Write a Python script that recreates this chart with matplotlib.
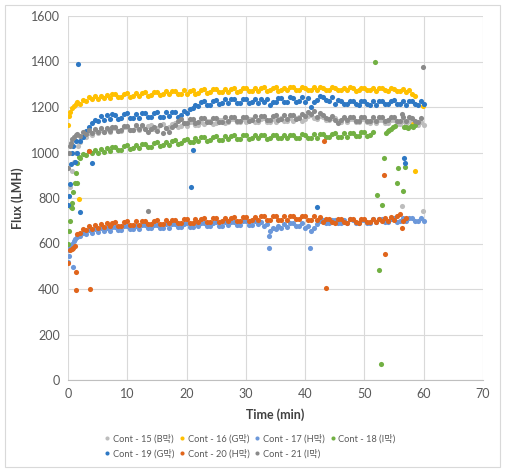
import numpy as np
import matplotlib
matplotlib.use("Agg")
import matplotlib.pyplot as plt
from matplotlib.patches import Rectangle

plt.rcParams['font.family'] = ['Lato', 'Noto Sans CJK KR', 'DejaVu Sans']

# ---------------- data ----------------
series_names = ["Cont - 15 (B막)", "Cont - 16 (G막)", "Cont - 17 (H막)", "Cont - 18 (I막)",
                "Cont - 19 (G막)", "Cont - 20 (H막)", "Cont - 21 (I막)"]
colors = ["#BDBDBD", "#FFC000", "#6C98DA", "#72B043", "#2E78C4", "#E0651C", "#8A8A8A"]

# regular sampling times (min) for the main bands
T = np.arange(2.0, 60.01, 0.5)

y15 = [1045,1066,1068,1086,1078,1096,1084,1100,1088,1104,
       1091,1106,1108,1093,1095,1110,1112,1097,1099,1114,
       1101,1116,1103,1118,1120,1105,1107,1122,1124,1109,
       1111,1126,1128,1113,1115,1130,1118,1132,1134,1120,
       1122,1136,1124,1138,1140,1126,1128,1142,1144,1130,
       1132,1146,1147,1133,1134,1148,1133,1147,1149,1135,
       1134,1148,1150,1136,1133,1147,1135,1149,1151,1137,
       1138,1152,1139,1153,1154,1140,1146,1162,1164,1150,
       1148,1160,1156,1144,1141,1153,1152,1138,1136,1150,
       1135,1149,1148,1134,1133,1147,1146,1132,1131,1145,
       1130,1144,1143,1129,1128,1142,1141,1127,1126,1140,
       1124,1138,1135,1122,1120,1132,1122]
t15_x = [0.3, 0.6, 1.0, 1.4, 1.7, 56.3, 59.8]
y15_x = [850, 920, 960, 1000, 1030, 765, 745]

y16 = [1215,1232,1226,1244,1233,1247,1236,1250,1238,1252,
       1240,1255,1257,1242,1244,1259,1260,1246,1247,1262,
       1249,1263,1265,1250,1252,1266,1268,1253,1255,1269,
       1256,1271,1272,1257,1258,1273,1255,1270,1274,1259,
       1261,1276,1277,1262,1264,1278,1279,1265,1266,1280,
       1267,1281,1282,1268,1269,1283,1284,1270,1271,1285,
       1272,1285,1286,1271,1273,1284,1287,1272,1274,1285,
       1273,1288,1286,1275,1274,1287,1285,1276,1273,1286,
       1275,1287,1285,1274,1276,1286,1284,1273,1275,1285,
       1274,1286,1284,1272,1275,1285,1283,1273,1274,1284,
       1272,1283,1282,1273,1271,1283,1281,1272,1270,1280,
       1268,1276,1258]
t16_x = [0.0, 0.2, 0.4, 0.7, 1.0, 1.3, 1.6, 1.85, 58.2, 58.5, 58.6, 59.8]
y16_x = [1120, 1160, 1180, 1195, 1205, 1215, 1220, 795, 1125, 1248, 920, 1205]

y17 = [632,648,642,658,646,662,650,666,653,668,
       656,671,673,658,660,675,677,662,663,678,
       665,680,681,666,667,682,683,668,669,684,
       670,685,686,671,672,687,688,673,674,689,
       675,690,691,676,677,692,693,678,679,694,
       680,695,696,681,682,697,698,683,682,697,
       684,696,676,686,656,668,662,676,670,684,
       674,688,689,675,676,690,668,678,656,670,
       686,700,702,688,689,703,704,690,691,705,
       692,706,705,691,690,704,705,691,692,706,
       693,707,708,694,695,709,710,696,697,711,
       698,712,712,699,698,711,700]
t17_x = [0.0, 0.1, 0.2, 0.4, 0.6, 0.85, 1.0, 1.2, 1.5, 1.8, 33.9, 33.9, 40.8]
y17_x = [520, 545, 571, 585, 600, 497, 610, 620, 630, 636, 580, 633, 580]

y18 = [978,994,990,1006,996,1012,1000,1016,1004,1020,
       1008,1024,1026,1010,1013,1029,1031,1015,1018,1034,
       1020,1036,1039,1023,1026,1042,1045,1029,1032,1048,
       1035,1051,1054,1038,1041,1057,1060,1044,1047,1063,
       1050,1066,1068,1052,1054,1070,1072,1056,1057,1073,
       1058,1074,1075,1059,1060,1076,1077,1061,1062,1078,
       1062,1078,1077,1061,1063,1079,1078,1062,1063,1079,
       1062,1078,1079,1063,1064,1080,1079,1063,1065,1081,
       1065,1081,1082,1066,1067,1083,1084,1068,1069,1085,
       1070,1086,1087,1071,1073,1089,1090,1074,1076,1092]
t18_x = [0.0, 0.1, 0.3, 0.5, 0.6, 0.7, 0.9, 1.1, 1.3, 1.5, 1.6, 1.9,
         51.8, 52.1, 52.4, 52.8, 53.0, 53.3, 53.6, 53.9, 54.2, 54.5, 54.8, 55.1,
         55.5, 55.7, 56.5, 56.8, 56.6, 57.0, 57.4, 57.8, 58.2, 58.6]
y18_x = [600, 655, 700, 760, 756, 780, 826, 866, 910, 865, 953, 980,
         1397, 812, 483, 70, 769, 977, 1085, 1095, 1100, 1105, 1112, 1118,
         864, 931, 832, 938, 1110, 1113, 1108, 1115, 1112, 1120]

y19 = [1052,1070,1096,1114,1128,1145,1140,1162,1144,1164,
       1148,1168,1166,1146,1150,1170,1172,1152,1151,1171,
       1153,1173,1175,1155,1154,1174,1176,1156,1158,1178,
       1160,1180,1178,1158,1163,1183,1172,1192,1195,1210,
       1205,1222,1225,1208,1210,1227,1231,1214,1216,1233,
       1218,1235,1234,1217,1219,1236,1235,1218,1220,1237,
       1219,1236,1221,1233,1208,1222,1220,1238,1240,1222,
       1224,1242,1241,1223,1225,1243,1222,1240,1200,1222,
       1232,1248,1246,1230,1228,1244,1214,1230,1228,1212,
       1211,1227,1228,1212,1210,1226,1227,1211,1209,1225,
       1210,1226,1228,1212,1211,1227,1229,1213,1212,1228,
       1210,1226,1227,1211,1209,1225,1212]
t19_x = [0.0, 0.15, 0.3, 0.5, 0.7, 0.9, 1.1, 1.3, 1.5, 1.7, 2.0, 4.0,
         20.8, 21.0, 42.0, 56.6, 56.8]
y19_x = [770, 810, 860, 950, 1000, 1030, 960, 1050, 1000, 1390, 740, 952,
         849, 1011, 760, 976, 954]

y20 = [648,664,660,676,664,680,668,684,672,688,
       675,691,693,677,679,695,697,681,682,698,
       683,699,700,684,685,701,702,686,687,703,
       688,704,705,689,690,706,707,691,692,708,
       693,709,710,694,695,711,712,696,697,713,
       698,714,715,699,700,716,717,701,702,718,
       703,719,719,703,704,720,720,704,705,721,
       705,721,722,706,706,722,721,705,704,720,
       702,716,694,708,707,693,692,706,707,693,
       692,706,707,693,692,706,707,693,694,708,
       695,709,700,714,698,718,702,722,728,700,
       714]
t20_x = [0.0, 0.3, 0.6, 0.9, 1.1, 1.35, 1.4, 1.6, 3.5, 3.7,
         43.2, 43.5, 53.3, 53.5, 56.3]
y20_x = [514, 571, 576, 580, 590, 474, 395, 640, 1008, 398,
         1050, 405, 900, 554, 670]

y21 = [1074,1092,1080,1098,1084,1102,1088,1106,1090,1108,
       1093,1111,1113,1095,1097,1115,1117,1099,1101,1119,
       1103,1121,1105,1090,1104,1112,1094,1120,1086,1108,
       1090,1110,1120,1138,1146,1128,1130,1148,1149,1131,
       1132,1150,1151,1133,1134,1152,1153,1135,1136,1154,
       1137,1155,1156,1138,1139,1157,1158,1140,1141,1159,
       1142,1160,1161,1143,1144,1162,1163,1145,1146,1164,
       1147,1165,1167,1149,1152,1170,1160,1180,1168,1184,
       1156,1172,1166,1150,1146,1162,1144,1128,1142,1158,
       1141,1157,1156,1140,1139,1155,1156,1140,1139,1155,
       1140,1156,1155,1139,1141,1157,1156,1140,1139,1155,
       1138,1154,1152,1137,1135,1150]
t21_x = [0.0, 0.1, 0.3, 0.5, 0.7, 1.0, 1.3, 1.6, 13.5, 56.3, 59.9]
y21_x = [930, 1000, 1030, 1040, 1060, 1070, 1075, 1080, 743, 1168, 1375]

main_vals = [y15, y16, y17, y18, y19, y20, y21]
extra_t = [t15_x, t16_x, t17_x, t18_x, t19_x, t20_x, t21_x]
extra_y = [y15_x, y16_x, y17_x, y18_x, y19_x, y20_x, y21_x]

x_ticks = [0, 10, 20, 30, 40, 50, 60, 70]
y_ticks = [0, 200, 400, 600, 800, 1000, 1200, 1400, 1600]

# ---------------- figure ----------------
W, H = 508, 474
fig = plt.figure(figsize=(W / 100, H / 100), dpi=100)
ax = fig.add_axes([68 / W, 1 - 380 / H, (483 - 68) / W, (380 - 16) / H])

handles = []
for name, c, yv, tx, yx in zip(series_names, colors, main_vals, extra_t, extra_y):
    tt = np.concatenate([np.asarray(tx), T[:len(yv)]])
    yy = np.concatenate([np.asarray(yx), np.asarray(yv)])
    h, = ax.plot(tt, yy, linestyle='none', marker='o', markersize=3.7,
                 markeredgewidth=0, color=c, label=name)
    handles.append(h)

ax.set_xlim(0, 70)
ax.set_ylim(0, 1600)
ax.set_xticks(x_ticks)
ax.set_yticks(y_ticks)
ax.grid(True, color='#d9d9d9', linewidth=0.8)
ax.set_axisbelow(True)
for s in ['top', 'right', 'left']:
    ax.spines[s].set_visible(False)
ax.spines['bottom'].set_color('#bfbfbf')
ax.tick_params(length=0, labelsize=9, labelcolor='#595959', pad=6)
ax.set_xlabel('Time (min)', fontsize=9, fontweight='bold', color='#404040', labelpad=6)
ax.set_ylabel('Flux (LMH)', fontsize=9, fontweight='bold', color='#404040', labelpad=5)

order = [0, 4, 1, 5, 2, 6, 3]
fig.legend([handles[i] for i in order], [series_names[i] for i in order],
           loc='center', bbox_to_anchor=(250 / W, 1 - 446.5 / H), ncol=4,
           frameon=False, fontsize=6.7, labelcolor='#595959',
           handlelength=0.6, handletextpad=0.3, columnspacing=0.55,
           labelspacing=0.6, markerscale=0.8,
           borderpad=0.2)

fig.patches.append(Rectangle((5 / W, 1 - 467 / H), (500 - 5) / W, (467 - 5) / H,
                             transform=fig.transFigure, fill=False,
                             edgecolor='#d9d9d9', linewidth=0.8))

fig.savefig('out.png', dpi=100)
